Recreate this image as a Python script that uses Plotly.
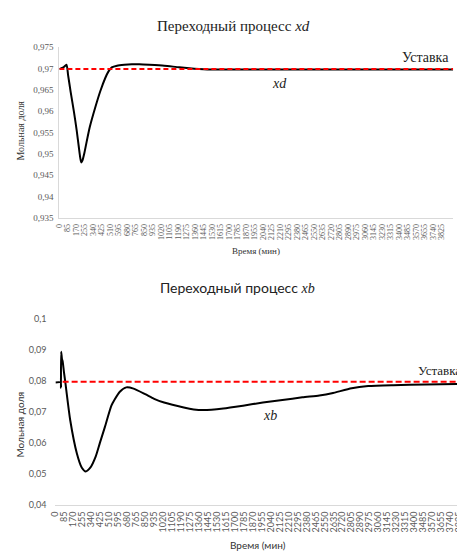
import plotly.graph_objects as go

# ---- data: top chart (xd) ----
xd_time = [0, 40, 71, 87, 113, 146, 173, 195, 210, 219, 230, 250, 268, 304, 360, 409, 459,
           490, 524, 577, 650, 725, 800, 900, 1050, 1200, 1350, 1514, 2000, 2500, 3000, 3500, 3940]
xd_vals = [0.9699, 0.9703, 0.9709, 0.9685, 0.9645, 0.9598, 0.9555, 0.9515, 0.9489, 0.9480,
           0.9484, 0.9502, 0.9523, 0.9563, 0.9610, 0.9647, 0.9678, 0.9693, 0.9703, 0.9707,
           0.9709, 0.9710, 0.9710, 0.9709, 0.9707, 0.9703, 0.9700, 0.9698, 0.9698, 0.9698,
           0.9698, 0.9698, 0.9698]
xd_set_time = [0, 3940]
xd_set_vals = [0.9699, 0.9699]

# ---- data: bottom chart (xb) ----
xb_time = [0, 50, 52, 54, 62, 68, 80, 94, 140, 203, 250, 287, 330, 380, 421, 468, 530, 561,
           610, 671, 740, 850, 935, 1029, 1216, 1310, 1403, 1590, 1777, 1965, 2150, 2339,
           2500, 2619, 2806, 2963, 3200, 3500, 3880]
xb_vals = [0.0795, 0.0795, 0.0778, 0.0894, 0.0870, 0.0863, 0.0830, 0.0794, 0.0673, 0.0566,
           0.0520, 0.0508, 0.0520, 0.0555, 0.0600, 0.0651, 0.0720, 0.0740, 0.0765, 0.0779,
           0.0775, 0.0757, 0.0742, 0.0730, 0.0714, 0.0708, 0.0706, 0.0711, 0.0720, 0.0730,
           0.0738, 0.0747, 0.0753, 0.0760, 0.0776, 0.0783, 0.0786, 0.0788, 0.0790]
xb_set_time = [68, 3880]
xb_set_vals = [0.0797, 0.0797]

x_ticks = list(range(0, 3826, 85))
y1_ticks = [0.935, 0.94, 0.945, 0.95, 0.955, 0.96, 0.965, 0.97, 0.975]
y1_labels = ["0,935", "0,94", "0,945", "0,95", "0,955", "0,96", "0,965", "0,97", "0,975"]
y2_ticks = [0.04, 0.05, 0.06, 0.07, 0.08, 0.09, 0.1]
y2_labels = ["0,04", "0,05", "0,06", "0,07", "0,08", "0,09", "0,1"]

# page has an 8px body margin: the figure starts at (8, 8) of the window
OFF = 8
W, H = 465 - OFF, 558 - OFF
SERIF = "Liberation Serif"
SANS = "Lato"

fig = go.Figure()
fig.add_trace(go.Scatter(x=xd_time, y=xd_vals, mode="lines", xaxis="x", yaxis="y",
                         line=dict(color="black", width=2, shape="spline", smoothing=0.6),
                         showlegend=False))
fig.add_trace(go.Scatter(x=xd_set_time, y=xd_set_vals, mode="lines", xaxis="x", yaxis="y",
                         line=dict(color="#ff0000", width=2, dash="5px,3px"), showlegend=False))
fig.add_trace(go.Scatter(x=xb_time, y=xb_vals, mode="lines", xaxis="x2", yaxis="y2",
                         line=dict(color="black", width=2, shape="spline", smoothing=0.6),
                         showlegend=False))
fig.add_trace(go.Scatter(x=xb_set_time, y=xb_set_vals, mode="lines", xaxis="x2", yaxis="y2",
                         line=dict(color="#ff0000", width=2, dash="6px,3px"), showlegend=False))

def px_x(p):
    return (p - OFF) / W

def px_y(p):
    return 1 - (p - OFF) / H

fig.update_layout(
    width=W, height=H,
    margin=dict(l=0, r=0, t=0, b=0),
    paper_bgcolor="white", plot_bgcolor="white",
    xaxis=dict(domain=[px_x(54), px_x(453)], range=[0, 3940], anchor="y",
               tickvals=x_ticks, tickangle=-90, showgrid=False, zeroline=False,
               showline=True, linecolor="#d9d9d9", linewidth=1, ticks="",
               tickfont=dict(family=SERIF, size=8, color="#595959"), ticklabelstandoff=2),
    yaxis=dict(domain=[px_y(216), px_y(42)], range=[0.935, 0.975], anchor="x",
               tickvals=y1_ticks, ticktext=y1_labels, showgrid=False, zeroline=False,
               showline=True, linecolor="#d9d9d9", linewidth=1, ticks="",
               tickfont=dict(family=SERIF, size=9, color="#595959"), ticklabelstandoff=3),
    xaxis2=dict(domain=[px_x(50), 1.0], range=[0, 3880], anchor="y2",
                tickvals=x_ticks, tickangle=-90, showgrid=False, zeroline=False,
                showline=True, linecolor="#d9d9d9", linewidth=1, ticks="",
                tickfont=dict(family=SANS, size=9, color="#595959"), ticklabelstandoff=2),
    yaxis2=dict(domain=[px_y(509), px_y(319)], range=[0.04, 0.1], anchor="x2",
                tickvals=y2_ticks, ticktext=y2_labels, showgrid=False, zeroline=False,
                showline=False, ticks="",
                tickfont=dict(family=SANS, size=9, color="#595959"), ticklabelstandoff=8),
)

ann = [
    dict(text="Переходный процесс <i>xd</i>", x=px_x(230), y=px_y(20),
         font=dict(family=SERIF, size=15, color="#222")),
    dict(text="Уставка", x=px_x(425), y=px_y(52), font=dict(family=SERIF, size=14, color="#222")),
    dict(text="<i>xd</i>", x=px_x(277), y=px_y(79), font=dict(family=SERIF, size=14, color="#222")),
    dict(text="Мольная доля", x=px_x(15), y=px_y(127), textangle=-90,
         font=dict(family=SERIF, size=10, color="#333")),
    dict(text="Время (мин)", x=px_x(253), y=px_y(250), font=dict(family=SERIF, size=9, color="#333")),
    dict(text="Переходный процесс <i><span style='font-family:Liberation Serif'>xb</span></i>",
         x=px_x(234), y=px_y(287), font=dict(family=SANS, size=14, color="#222")),
    dict(text="Уставка", x=px_x(463), y=px_y(372), xanchor="right",
         font=dict(family=SERIF, size=13, color="#222")),
    dict(text="<i>xb</i>", x=px_x(267), y=px_y(418), font=dict(family=SERIF, size=14, color="#222")),
    dict(text="Мольная доля", x=px_x(14), y=px_y(427), textangle=-90,
         font=dict(family=SANS, size=10, color="#333")),
    dict(text="Время (мин)", x=px_x(255), y=px_y(550), font=dict(family=SANS, size=10, color="#333")),
]
for a in ann:
    a.setdefault("xanchor", "center")
    a.update(xref="paper", yref="paper", showarrow=False, yanchor="middle")
fig.update_layout(annotations=ann)

fig.write_html("out.html")
